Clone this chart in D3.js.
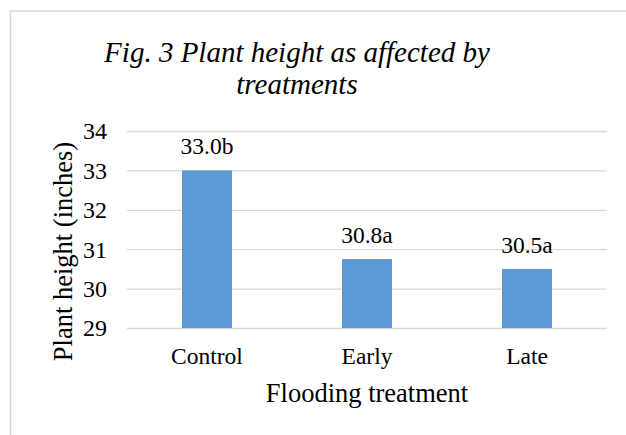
<!DOCTYPE html>
<html>
<head>
<meta charset="utf-8">
<script src="https://cdn.jsdelivr.net/npm/d3@7"></script>
<style>
  html, body { margin: 0; padding: 0; background: #fff; }
  svg { display: block; }
  text { font-family: "Liberation Serif", "Times New Roman", Tinos, serif; fill: #000; }
</style>
</head>
<body>
<div id="chart"></div>
<script>
const categories = ["Control", "Early", "Late"];
const values = [33.0, 30.75, 30.5];
const valueLabels = ["33.0b", "30.8a", "30.5a"];
const yTicks = [29, 30, 31, 32, 33, 34];
const titleLines = ["Fig. 3 Plant height as affected by", "treatments"];
const xTitle = "Flooding treatment";
const yTitle = "Plant height (inches)";

const W = 626, H = 435;
const FONT = "'Liberation Serif', 'Times New Roman', Tinos, serif";
const svg = d3.select("#chart").append("svg").attr("width", W).attr("height", H);

// outer frame (cropped at right and bottom)
svg.append("rect").attr("x", 10.5).attr("y", 11).attr("width", 800).attr("height", 600)
  .attr("fill", "none").attr("stroke", "#d9d9d9").attr("stroke-width", 1.5);

const plot = { left: 127, right: 607, top: 131, bottom: 328 };

const x = d3.scaleBand().domain(categories).range([plot.left, plot.right])
  .paddingInner(0.6875).paddingOuter(0.34375);
const y = d3.scaleLinear().domain([29, 34]).range([plot.bottom, plot.top]);

// gridlines
const grid = d3.axisLeft(y).tickValues(yTicks).tickSize(-(plot.right - plot.left)).tickFormat("");
const g = svg.append("g").attr("transform", `translate(${plot.left},0)`).call(grid);
g.select(".domain").remove();
g.selectAll(".tick line").attr("stroke", "#d9d9d9").attr("stroke-width", 1.3);

// y tick labels
const ya = svg.append("g").attr("transform", `translate(${plot.left - 20},0)`)
  .call(d3.axisLeft(y).tickValues(yTicks).tickSize(0).tickPadding(0).tickFormat(d3.format("d")));
ya.attr("font-family", FONT);
ya.select(".domain").remove();
ya.selectAll("text").style("font-family", FONT).style("font-size", "24px")
  .attr("fill", "#000").attr("dy", "0.33em");

// bars
svg.selectAll("rect.bar").data(categories).enter().append("rect").attr("class", "bar")
  .attr("x", d => x(d)).attr("width", x.bandwidth())
  .attr("y", (d, i) => y(values[i])).attr("height", (d, i) => y(29) - y(values[i]))
  .attr("fill", "#5b9bd5");

// data labels
svg.selectAll("text.vlab").data(categories).enter().append("text").attr("class", "vlab")
  .attr("x", d => x(d) + x.bandwidth() / 2).attr("y", (d, i) => y(values[i]) - 16)
  .attr("text-anchor", "middle").style("font-family", FONT).style("font-size", "23.5px")
  .text((d, i) => valueLabels[i]);

// x category labels
const xa = svg.append("g").attr("transform", `translate(0,${plot.bottom})`)
  .call(d3.axisBottom(x).tickSize(0).tickPadding(0));
xa.attr("font-family", FONT);
xa.select(".domain").remove();
xa.selectAll("text").style("font-family", FONT).style("font-size", "23.5px")
  .attr("fill", "#000").attr("dy", null).attr("y", 36);

// axis titles
svg.append("text").attr("x", (plot.left + plot.right) / 2).attr("y", 402)
  .attr("text-anchor", "middle").style("font-family", FONT).style("font-size", "26.5px").text(xTitle);
svg.append("text").attr("transform", `translate(72,${(plot.top + plot.bottom) / 2 + 22}) rotate(-90)`)
  .attr("text-anchor", "middle").style("font-family", FONT).style("font-size", "26.5px").text(yTitle);

// title
svg.append("g").selectAll("text").data(titleLines).enter().append("text")
  .attr("x", 297).attr("y", (d, i) => 62 + i * 32)
  .attr("text-anchor", "middle").style("font-family", FONT).style("font-size", "29px").style("font-style", "italic")
  .text(d => d);
</script>
</body>
</html>
